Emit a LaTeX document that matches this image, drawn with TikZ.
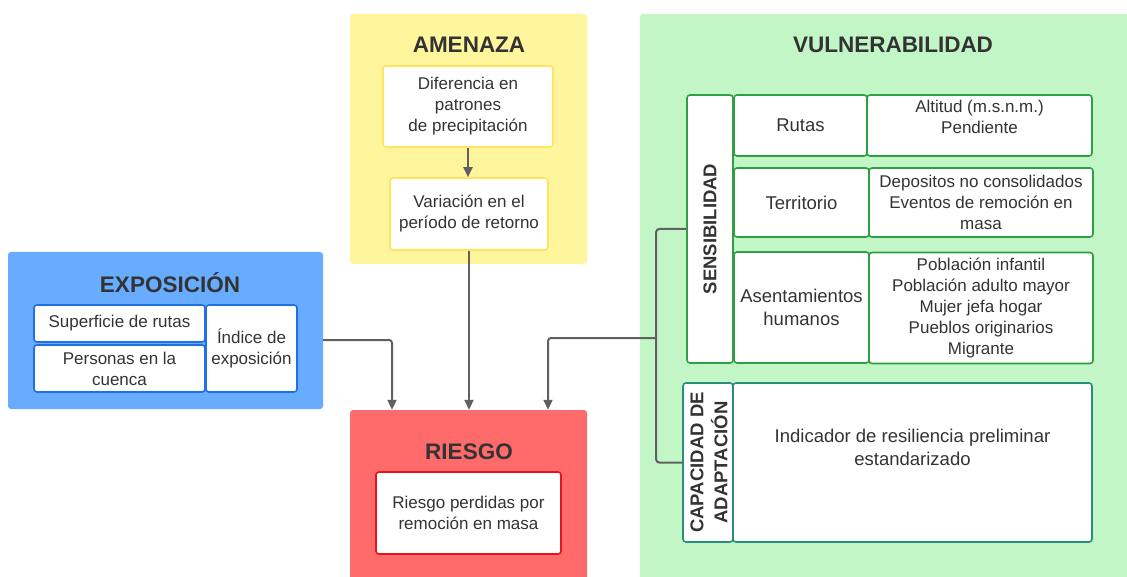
\documentclass[tikz,border=0pt]{standalone}
\usepackage{fontspec}
\setmainfont{Liberation Sans}
\usetikzlibrary{arrows.meta,calc}
\definecolor{txt}{HTML}{333333}
\definecolor{ylbg}{HTML}{FFF59D}
\definecolor{ylbd}{HTML}{FFE45C}
\definecolor{blbg}{HTML}{68ACFF}
\definecolor{blbd}{HTML}{1F6FE5}
\definecolor{rdbg}{HTML}{FF6B6B}
\definecolor{rdbd}{HTML}{E8141B}
\definecolor{grbg}{HTML}{C3F6C6}
\definecolor{grbd}{HTML}{2EA043}
\definecolor{tlbd}{HTML}{2A8F7A}
\definecolor{lnc}{HTML}{606060}
\tikzset{
  panel/.style={draw=none,rounded corners=3,inner sep=0pt},
  ttl/.style={text=txt,font=\fontsize{22.5}{26}\selectfont\bfseries,inner sep=0pt},
  ibox/.style={draw=#1,fill=white,line width=1.6pt,rounded corners=3,inner sep=0pt,
    text=txt,align=center,font=\fontsize{17}{21}\selectfont},
  mid/.style={font=\fontsize{18.5}{22.5}\selectfont},
  vtx/.style={text=txt,align=center,rotate=90,inner sep=0pt,font=\fontsize{18.5}{24}\selectfont\bfseries},
  conn/.style={draw=lnc,line width=2pt,rounded corners=3},
  arr/.style={conn,-{Triangle[width=9pt,length=10pt]}},
}
\begin{document}
\begin{tikzpicture}[x=1pt,y=-1pt]
\clip (0,0) rectangle (1127,577);
\fill[white] (0,0) rectangle (1127,577);
% panels
\node[panel,fill=ylbg,minimum width=237pt,minimum height=250pt] (amen) at (468.5,139) {};
\node[panel,fill=blbg,minimum width=315pt,minimum height=157pt] (expo) at (165.5,330.5) {};
\node[panel,fill=rdbg,minimum width=237pt,minimum height=172pt] (ries) at (468.5,496) {};
\node[panel,fill=grbg,minimum width=492pt,minimum height=568pt] (vuln) at (886,298) {};
% titles
\node[ttl] (amenT) at (469,45) {AMENAZA};
\node[ttl] (expoT) at (170,283) {EXPOSICIÓN};
\node[ttl] (riesT) at (469,452) {RIESGO};
\node[ttl] (vulnT) at (893,45) {VULNERABILIDAD};
% amenaza
\node[ibox=ylbd,minimum width=170pt,minimum height=81pt] (dif) at (468,106.5) {Diferencia en\\patrones\\de precipitación};
\node[ibox=ylbd,minimum width=158pt,minimum height=72pt] (var) at (469,214) {Variación en el\\período de retorno};
% exposicion
\node[ibox=blbd,minimum width=171pt,minimum height=37pt] (sup) at (119.5,323.5) {Superficie de rutas};
\node[ibox=blbd,minimum width=171pt,minimum height=47pt] (per) at (119.5,368.5) {Personas en la\\cuenca};
\node[ibox=blbd,minimum width=91pt,minimum height=87pt] (ind) at (251.5,348.5) {Índice de\\exposición};
% riesgo
\node[ibox=rdbd,minimum width=185pt,minimum height=82pt] (rin) at (468.5,513) {Riesgo perdidas por\\remoción en masa};
% sensibilidad
\node[ibox=grbd,minimum width=46pt,minimum height=268pt] (sens) at (710,229) {};
\node[vtx] (sensT) at (710,229) {SENSIBILIDAD};
\node[ibox=grbd,mid,minimum width=133pt,minimum height=61pt] (rutas) at (800.5,125.5) {Rutas};
\node[ibox=grbd,minimum width=225pt,minimum height=61pt] (rutasd) at (979.5,125.5) {};
\node[text=txt,align=center,inner sep=0pt,font=\fontsize{17}{21}\selectfont] (rutasdT) at (979.5,117) {Altitud (m.s.n.m.)\\Pendiente};
\node[ibox=grbd,mid,minimum width=135pt,minimum height=69pt] (terr) at (801.5,202.5) {Territorio};
\node[ibox=grbd,minimum width=224pt,minimum height=69pt] (terrd) at (981,202.5) {Depositos no consolidados\\Eventos de remoción en\\masa};
\node[ibox=grbd,mid,minimum width=135pt,minimum height=111pt] (asen) at (801.5,307.5) {Asentamientos\\humanos};
\node[ibox=grbd,minimum width=224pt,minimum height=111pt] (asend) at (981,308) {Población infantil\\Población adulto mayor\\Mujer jefa hogar\\Pueblos originarios\\Migrante};
% capacidad
\node[ibox=tlbd,minimum width=50pt,minimum height=159pt] (cap) at (708,462.5) {};
\node[vtx] (capT) at (709,462.5) {CAPACIDAD DE\\ADAPTACIÓN};
\node[ibox=tlbd,mid,minimum width=359pt,minimum height=159pt] (capd) at (912.5,462.5) {Indicador de resiliencia preliminar\\estandarizado\\[8pt]};
% connectors
\draw[arr] (dif.south) -- (dif.south |- var.north);
\draw[arr] (var.south) -- (var.south |- ries.north);
\draw[arr] ($(expo.east)+(0,9.5)$) -| ($(ries.north)+(-76.5,0)$);
\draw[conn] (sens.west) -- ++(-30,0) |- (cap.west);
\coordinate (brk) at ($(sens.west)+(-30,109)$);
\draw[arr] (brk) -| ($(ries.north)+(79.5,0)$);
\end{tikzpicture}
\end{document}
